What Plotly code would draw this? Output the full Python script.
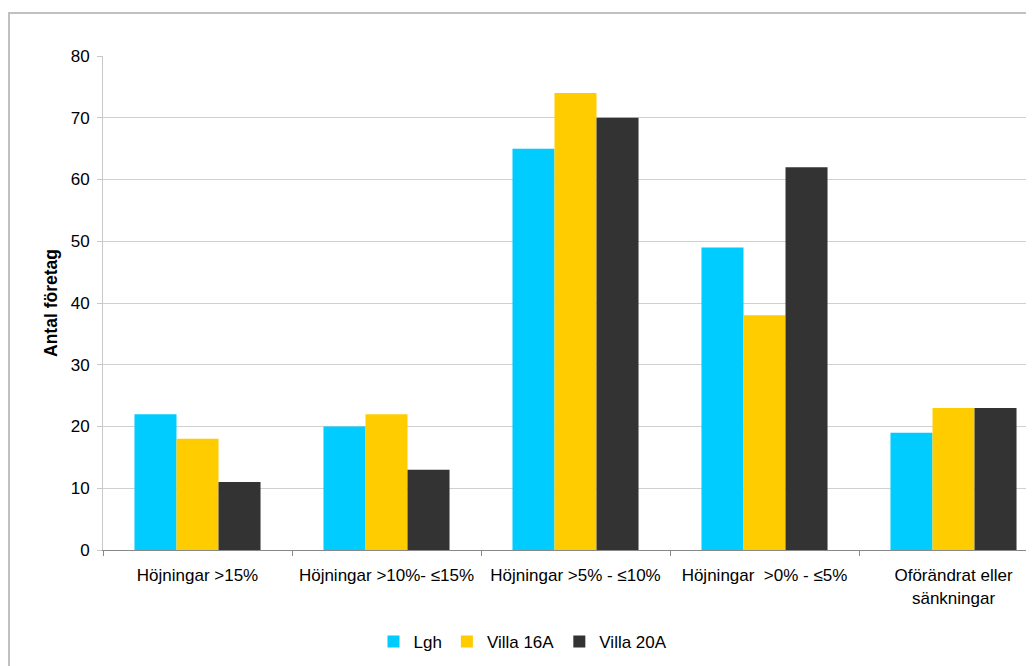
import plotly.graph_objects as go

categories = [
    "Höjningar >15%",
    "Höjningar >10%- ≤15%",
    "Höjningar >5% - ≤10%",
    "Höjningar  >0% - ≤5%",
    "Oförändrat eller<br>sänkningar",
]
series_names = ["Lgh", "Villa 16A", "Villa 20A"]
lgh = [22, 20, 65, 49, 19]
villa16a = [18, 22, 74, 38, 23]
villa20a = [11, 13, 70, 62, 23]
colors = ["#00CCFF", "#FFCC00", "#333333"]
y_ticks = [0, 10, 20, 30, 40, 50, 60, 70, 80]

fig = go.Figure()
for name, vals, col in zip(series_names, [lgh, villa16a, villa20a], colors):
    fig.add_trace(go.Bar(x=categories, y=vals, name=name, marker=dict(color=col, line=dict(width=0))))

W, H = 1026, 658
L, T, R, B = 95, 48, 0, 116
pw = W - L - R
ph = H - T - B
cat_px = 189.0

fig.update_layout(
    width=W, height=H,
    margin=dict(l=L, r=R, t=T, b=B, pad=0),
    paper_bgcolor="white", plot_bgcolor="white",
    font=dict(family="Liberation Sans, Arial, sans-serif", size=17, color="#000000"),
    barmode="group", bargap=0.333, bargroupgap=0,
    showlegend=True,
    legend=dict(orientation="h", x=(515 - L) / pw, xanchor="center", y=(542 - 634) / ph, yanchor="middle",
                font=dict(size=17), itemwidth=30, tracegroupgap=0),
    xaxis=dict(
        type="category",
        range=[-0.5, pw / cat_px - 0.5],
        showgrid=False,
        showline=True, linecolor="#888888", linewidth=1,
        ticks="outside", tickson="boundaries", ticklen=5, tickcolor="#888888",
        tickfont=dict(size=17), tickangle=0, ticklabelstandoff=10,
        fixedrange=True,
    ),
    yaxis=dict(
        range=[0, 80],
        tickvals=y_ticks,
        showgrid=True, gridcolor="#D0D0D0", gridwidth=1,
        showline=True, linecolor="#C8C8C8", linewidth=1,
        ticks="outside", ticklen=5, tickcolor="#C8C8C8",
        tickfont=dict(size=17), ticklabelstandoff=4,
        zeroline=False,
        title=dict(text="<b>Antal företag</b>", font=dict(size=17.5), standoff=8),
    ),
    shapes=[
        dict(type="rect", xref="paper", yref="paper",
             x0=(1 - L) / pw, x1=(W + 20 - L) / pw,
             y0=(542 - (H + 20)) / ph, y1=(542 - 5) / ph,
             line=dict(color="#C0C0C0", width=2), fillcolor="rgba(0,0,0,0)", layer="below"),
    ],
)

fig.write_html("out.html")
